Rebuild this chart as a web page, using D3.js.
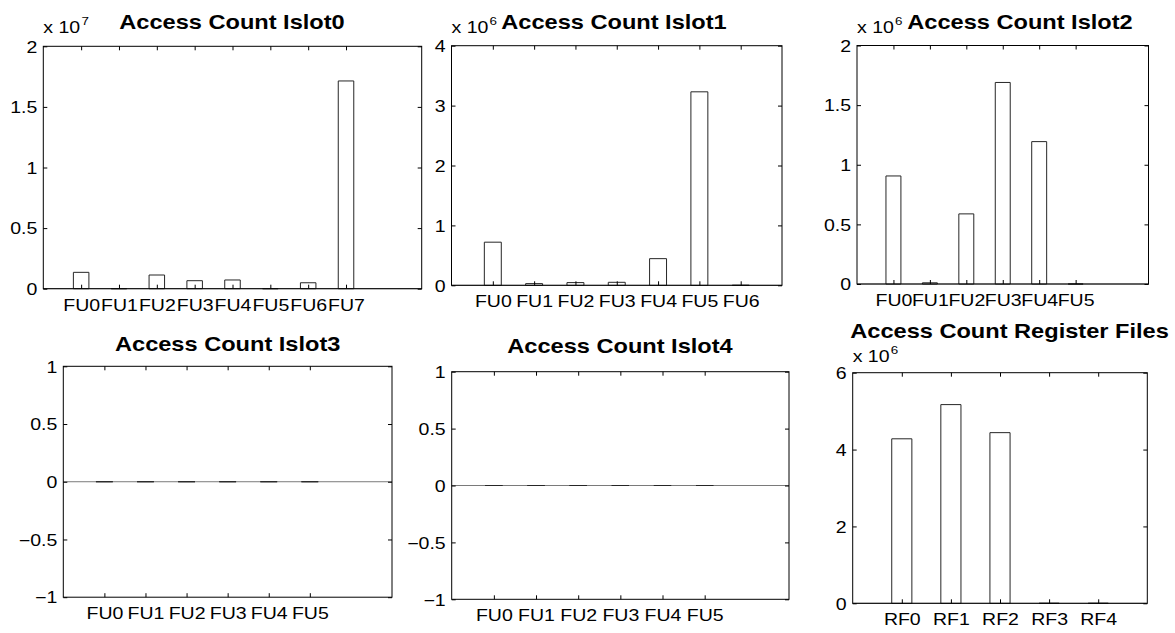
<!DOCTYPE html>
<html>
<head>
<meta charset="utf-8">
<script src="https://cdn.jsdelivr.net/npm/d3@7"></script>
<style>
  body { margin: 0; background: #fff; }
  svg { display: block; }
  text { font-family: "Liberation Sans", Arial, Helvetica, sans-serif; fill: #000; }
</style>
</head>
<body>
<svg id="fig" width="1175" height="633"></svg>
<script>
// ---- access counts per issue slot / register file ----
const islot0Units = ["FU0", "FU1", "FU2", "FU3", "FU4", "FU5", "FU6", "FU7"];
const islot0Counts = [1350000, 0, 1130000, 660000, 720000, 0, 490000, 17140000];
const islot0Ticks = [0, 5e6, 1e7, 1.5e7, 2e7];

const islot1Units = ["FU0", "FU1", "FU2", "FU3", "FU4", "FU5", "FU6"];
const islot1Counts = [720000, 28000, 45000, 50000, 445000, 3230000, 0];
const islot1Ticks = [0, 1e6, 2e6, 3e6, 4e6];

const islot2Units = ["FU0", "FU1", "FU2", "FU3", "FU4", "FU5"];
const islot2Counts = [906000, 10000, 588000, 1690000, 1194000, 0];
const islot2Ticks = [0, 5e5, 1e6, 1.5e6, 2e6];

const islot3Units = ["FU0", "FU1", "FU2", "FU3", "FU4", "FU5"];
const islot3Counts = [0, 0, 0, 0, 0, 0];
const islot3Ticks = [-1, -0.5, 0, 0.5, 1];

const islot4Units = ["FU0", "FU1", "FU2", "FU3", "FU4", "FU5"];
const islot4Counts = [0, 0, 0, 0, 0, 0];
const islot4Ticks = [-1, -0.5, 0, 0.5, 1];

const rfUnits = ["RF0", "RF1", "RF2", "RF3", "RF4"];
const rfCounts = [4280000, 5170000, 4440000, 0, 0];
const rfTicks = [0, 2e6, 4e6, 6e6];

const panelTitles = [
  "Access Count Islot0", "Access Count Islot1", "Access Count Islot2",
  "Access Count Islot3", "Access Count Islot4", "Access Count Register Files"
];

// ---- layout of the 2x3 grid of axes ----
const panels = [
  { title: panelTitles[0], units: islot0Units, counts: islot0Counts, ticks: islot0Ticks, exp: 7,
    xMax: 10, box: [43.3, 46.3, 421.7, 288.7], titleX: 232, titleY: 29, expY: 33 },
  { title: panelTitles[1], units: islot1Units, counts: islot1Counts, ticks: islot1Ticks, exp: 6,
    xMax: 8, box: [451.5, 45.7, 782, 285.3], titleX: 614, titleY: 29, expY: 33 },
  { title: panelTitles[2], units: islot2Units, counts: islot2Counts, ticks: islot2Ticks, exp: 6,
    xMax: 8, box: [857, 45.5, 1148.5, 284], titleX: 1020, titleY: 29, expY: 33 },
  { title: panelTitles[3], units: islot3Units, counts: islot3Counts, ticks: islot3Ticks, exp: 0,
    xMax: 8, box: [63.3, 366.3, 392, 597.2], titleX: 227.7, titleY: 350.7, expY: 0 },
  { title: panelTitles[4], units: islot4Units, counts: islot4Counts, ticks: islot4Ticks, exp: 0,
    xMax: 8, box: [451.7, 371.7, 789, 599.3], titleX: 620, titleY: 353.3, expY: 0 },
  { title: panelTitles[5], units: rfUnits, counts: rfCounts, ticks: rfTicks, exp: 6,
    xMax: 6, box: [852.7, 372.7, 1147.3, 603.3], titleX: 1009.5, titleY: 338, expY: 362 }
];

const BAR_WIDTH = 0.41;   // in category units
const SX_TICK = 1.22;     // horizontal text stretch of the figure
const SX_TITLE = 1.18;
const TICK_FONT = 16;
const TITLE_FONT = 20;

const svg = d3.select("#fig");

function fmtTick(v, exp) {
  const s = String(+(v / Math.pow(10, exp)).toFixed(3));
  return s.replace("-", "\u2212");
}

panels.forEach(p => {
  const [l, t, r, b] = p.box;
  const w = r - l, h = b - t;
  const g = svg.append("g").attr("transform", `translate(${l},${t})`);

  const x = d3.scaleLinear().domain([0, p.xMax]).range([0, w]);
  const y = d3.scaleLinear().domain([p.ticks[0], p.ticks[p.ticks.length - 1]]).range([h, 0]);
  const pos = p.units.map((_, i) => i + 1);

  // bar baseline
  g.append("line")
    .attr("x1", 0).attr("x2", w)
    .attr("y1", y(0)).attr("y2", y(0))
    .attr("stroke", "#7a7a7a").attr("stroke-width", 1);

  // bars (outlined, white fill); zero counts collapse to a line on the baseline
  g.selectAll("path.bar")
    .data(p.counts)
    .join("path")
    .attr("class", "bar")
    .attr("d", (v, i) => {
      const x0 = x(pos[i] - BAR_WIDTH / 2), x1 = x(pos[i] + BAR_WIDTH / 2);
      const y0 = y(0), y1 = y(v);
      return `M${x0},${y0}V${y1}H${x1}V${y0}Z`;
    })
    .attr("fill", "#fff")
    .attr("stroke", "#262626")
    .attr("stroke-width", 1);

  // axes with inward ticks on all four sides
  const styleAxis = sel => {
    sel.select(".domain").remove();
    sel.attr("font-size", null).attr("font-family", null);
    sel.selectAll(".tick line").attr("stroke", "#000").attr("stroke-width", 1);
  };

  const xBottom = g.append("g").attr("transform", `translate(0,${h})`)
    .call(d3.axisBottom(x).tickValues(pos).tickFormat((d, i) => p.units[i])
      .tickSizeInner(-4).tickSizeOuter(0));
  styleAxis(xBottom);
  xBottom.selectAll(".tick text")
    .attr("y", 0).attr("dy", 0)
    .attr("font-size", TICK_FONT)
    .attr("transform", `translate(0,22) scale(${SX_TICK},1)`);

  const xTop = g.append("g")
    .call(d3.axisTop(x).tickValues(pos).tickFormat("").tickSizeInner(-4).tickSizeOuter(0));
  styleAxis(xTop);

  const yLeft = g.append("g")
    .call(d3.axisLeft(y).tickValues(p.ticks).tickFormat(d => fmtTick(d, p.exp))
      .tickSizeInner(-4).tickSizeOuter(0));
  styleAxis(yLeft);
  yLeft.selectAll(".tick text")
    .attr("x", 0).attr("dy", "0.36em")
    .attr("font-size", TICK_FONT)
    .attr("text-anchor", "end")
    .attr("transform", `translate(-6,0) scale(${SX_TICK},1)`);

  const yRight = g.append("g").attr("transform", `translate(${w},0)`)
    .call(d3.axisRight(y).tickValues(p.ticks).tickFormat("").tickSizeInner(-4).tickSizeOuter(0));
  styleAxis(yRight);

  // axes box
  g.append("rect")
    .attr("x", 0).attr("y", 0).attr("width", w).attr("height", h)
    .attr("fill", "none").attr("stroke", "#000").attr("stroke-width", 1);

  // exponent multiplier
  if (p.exp) {
    const e = svg.append("text")
      .attr("transform", `translate(${l},${p.expY}) scale(${SX_TICK},1)`)
      .attr("font-size", TICK_FONT);
    e.append("tspan").text("x 10");
    e.append("tspan").attr("font-size", 11).attr("dx", 1).attr("dy", -8).text(p.exp);
  }

  // title
  svg.append("text")
    .attr("transform", `translate(${p.titleX},${p.titleY}) scale(${SX_TITLE},1)`)
    .attr("text-anchor", "middle")
    .attr("font-size", TITLE_FONT)
    .attr("font-weight", "bold")
    .text(p.title);
});
</script>
</body>
</html>
